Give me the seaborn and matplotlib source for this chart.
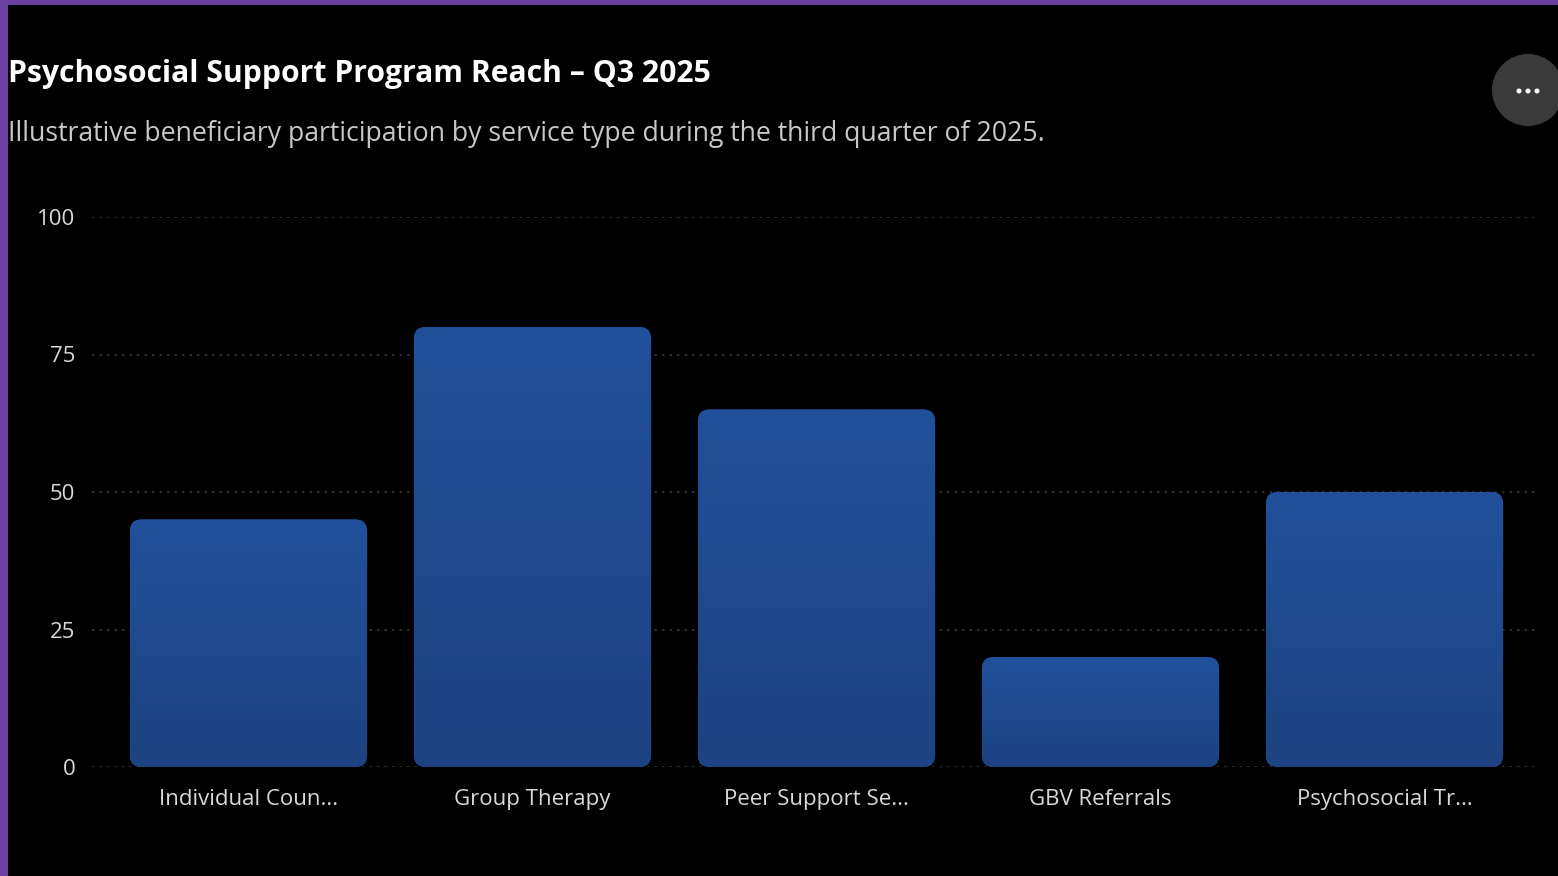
import numpy as np
import pandas as pd
import matplotlib
matplotlib.use("Agg")
import matplotlib.pyplot as plt
import seaborn as sns
from matplotlib.patches import FancyBboxPatch, Rectangle, Circle
from matplotlib.colors import LinearSegmentedColormap

# data
services = ["Individual Coun...", "Group Therapy", "Peer Support Se...",
            "GBV Referrals", "Psychosocial Tr..."]
beneficiaries = [45, 80, 65, 20, 50]
y_ticks = [0, 25, 50, 75, 100]

title = "Psychosocial Support Program Reach \u2013 Q3 2025"
subtitle = "Illustrative beneficiary participation by service type during the third quarter of 2025."

df = pd.DataFrame({"service": services, "value": beneficiaries})

sns.set_theme(style="dark")
plt.rcParams["font.family"] = ["Open Sans", "DejaVu Sans"]

W, H = 1558, 876
fig = plt.figure(figsize=(W / 100, H / 100), dpi=100, facecolor="black")
ax = fig.add_axes([92 / W, (H - 767) / H, (1537 - 92) / W, (767 - 217) / H])
ax.set_facecolor("black")

sns.barplot(data=df, x="service", y="value", color="#1f4b90", width=0.835,
            ax=ax, zorder=3)

ax.set_ylim(0, 100)
ax.set_xlim(-0.551, 4.537)
ax.set_yticks(y_ticks)
ax.set_xlabel("")
ax.set_ylabel("")
for s in ax.spines.values():
    s.set_visible(False)
ax.grid(False)
for t in y_ticks:
    ax.axhline(t, color="#363636", lw=1.2, ls=(0, (1.5, 3)), zorder=1)
ax.tick_params(axis="both", length=0, colors="#d8d8d8", labelsize=16)
ax.tick_params(axis="y", pad=12)
ax.tick_params(axis="x", pad=16)

# rounded bars with a soft vertical gradient
fig.canvas.draw()
px_x = ax.transData.transform((1, 0))[0] - ax.transData.transform((0, 0))[0]
px_y = ax.transData.transform((0, 1))[1] - ax.transData.transform((0, 0))[1]
r_px = 12
aspect = px_x / px_y
cmap = LinearSegmentedColormap.from_list("bar", ["#1d4382", "#21519b"])
grad = np.linspace(0, 1, 256).reshape(-1, 1)
for bar in list(ax.patches):
    x0, y0 = bar.get_x(), bar.get_y()
    w, h = bar.get_width(), bar.get_height()
    bar.remove()
    rp = FancyBboxPatch((x0, y0), w, h,
                        boxstyle=f"round,pad=0,rounding_size={r_px / px_x}",
                        mutation_aspect=aspect, facecolor="#1f4b90",
                        edgecolor="none", zorder=3)
    ax.add_patch(rp)
    im = ax.imshow(grad, cmap=cmap, origin="lower", aspect="auto",
                   extent=(x0, x0 + w, y0, y0 + h), zorder=4)
    im.set_clip_path(rp)
ax.set_ylim(0, 100)
ax.set_xlim(-0.551, 4.537)

# titles
fig.text(8 / W, 1 - 74 / H, title, color="white", fontsize=21.7,
         fontweight="bold", va="center", ha="left")
fig.text(8 / W, 1 - 134 / H, subtitle, color="#c8c8c8", fontsize=19.2,
         va="center", ha="left")

# frame and menu button
fig.patches.append(Rectangle((0, 0), 8 / W, 1, transform=fig.transFigure,
                             facecolor="#6b3fa0", edgecolor="none", zorder=10))
fig.patches.append(Rectangle((0, 1 - 5 / H), 1, 5 / H, transform=fig.transFigure,
                             facecolor="#6b3fa0", edgecolor="none", zorder=10))
fig.patches.append(Circle((1528, H - 90), 36, transform=None,
                          facecolor="#3a3a3a", edgecolor="none", zorder=5))
for dx in (-9, 0, 9):
    fig.patches.append(Circle((1528 + dx, H - 91), 2.5, transform=None,
                              facecolor="white", edgecolor="none", zorder=6))

fig.savefig("out.png", dpi=100, facecolor="black")
